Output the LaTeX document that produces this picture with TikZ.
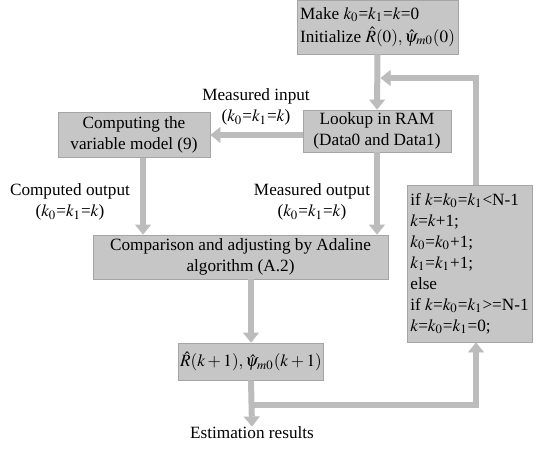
\documentclass[tikz,border=0pt]{standalone}
\usepackage{mathptmx}
\usepackage[no-math]{fontspec}
\setmainfont{Liberation Serif}
\usetikzlibrary{arrows.meta}
\definecolor{boxgray}{RGB}{198,198,198}
\definecolor{edgegray}{RGB}{165,165,165}
\definecolor{flowgray}{RGB}{188,188,188}
\tikzset{
  blk/.style={draw=edgegray, fill=boxgray, inner sep=1pt, align=center,
    font=\fontsize{8.6}{10.5}\selectfont},
  lbl/.style={align=center, inner sep=0pt, font=\fontsize{8.6}{10.5}\selectfont},
  flow/.style={draw=flowgray, line width=3pt,
    -{Triangle[width=8pt,length=5pt,line width=0.4pt]}},
}
\begin{document}
\begin{tikzpicture}[x=0.5pt,y=-0.5pt]
\useasboundingbox (0,0) rectangle (534,450);
% boxes
\node[blk, align=left, minimum width=80.5pt, minimum height=27pt] (init) at (377.5,27)
  {Make $k_0$=$k_1$=$k$=0\\[1pt]Initialize $\hat{R}(0),\hat{\psi}_{m0}(0)$};
\node[blk, minimum width=74pt, minimum height=21pt] (lookup) at (377,131)
  {Lookup in RAM\\(Data0 and Data1)};
\node[blk, minimum width=76pt, minimum height=22.5pt] (comp) at (134,135)
  {Computing the\\variable model (9)};
\node[blk, minimum width=147.5pt, minimum height=22pt] (cmp) at (240.5,257)
  {Comparison and adjusting by Adaline\\algorithm (A.2)};
\node[blk, minimum width=70pt, minimum height=18.5pt] (res) at (251,361.5)
  {$\hat{R}(k+1),\hat{\psi}_{m0}(k+1)$};
\node[blk, align=left, minimum width=62.5pt, minimum height=78.5pt, inner sep=0.5pt] (ifbox) at (469.5,263.5)
  {if $k$=$k_0$=$k_1$<N-1\\$k$=$k$+1;\\$k_0$=$k_0$+1;\\$k_1$=$k_1$+1;\\else\\if $k$=$k_0$=$k_1$>=N-1\\$k$=$k_0$=$k_1$=0;};
% labels
\node[lbl] (inlbl) at (256,107) {Measured input\\($k_0$=$k_1$=$k$)};
\node[lbl] (colbl) at (70,202) {Computed output\\($k_0$=$k_1$=$k$)};
\node[lbl] (molbl) at (312,202) {Measured output\\($k_0$=$k_1$=$k$)};
\node[lbl] (est) at (252,433) {Estimation results};
% connectors
\draw[flow] (init.south) -- (lookup.north);
\draw[flow] (lookup.west |- comp.east) -- (comp.east);
\draw[flow] ([xshift=4.5pt]comp.south) -- ([xshift=4.5pt]comp.south |- cmp.north);
\draw[flow] (lookup.south) -- (lookup.south |- cmp.north);
\draw[flow] (res.north |- cmp.south) -- (res.north);
\draw[flow] (res.south) -- (est.north);
\coordinate (split) at (251,405);
\coordinate (corner) at (476,405);
\coordinate (top) at (476,78);
\draw[flow] (split) -- (corner) -- (corner |- ifbox.south);
\draw[flow, shorten >=1.5pt] (corner |- ifbox.north) -- (top) -- (init.south |- top);
\end{tikzpicture}
\end{document}
